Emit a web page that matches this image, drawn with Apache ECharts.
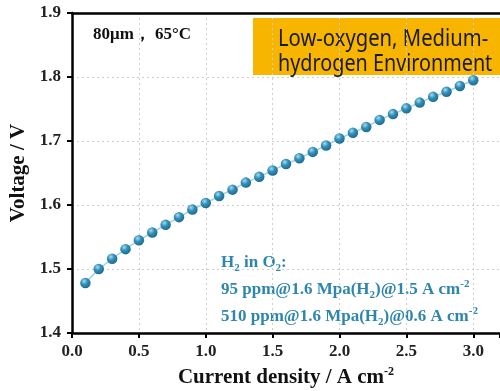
<!DOCTYPE html>
<html>
<head>
<meta charset="utf-8">
<script src="https://cdn.jsdelivr.net/npm/echarts@6/dist/echarts.min.js"></script>
<style>
  html, body { margin: 0; padding: 0; background: #fff; }
  #chart { width: 500px; height: 391px; }
</style>
</head>
<body>
<div id="chart"></div>
<script>
// Polarisation curve: current density (A cm^-2) vs cell voltage (V)
const currentDensity = [0.1, 0.2, 0.3, 0.4, 0.5, 0.6, 0.7, 0.8, 0.9, 1.0,
  1.1, 1.2, 1.3, 1.4, 1.5, 1.6, 1.7, 1.8, 1.9, 2.0,
  2.1, 2.2, 2.3, 2.4, 2.5, 2.6, 2.7, 2.8, 2.9, 3.0];
const voltage = [1.478, 1.500, 1.516, 1.531, 1.545, 1.557, 1.569, 1.581, 1.593, 1.603,
  1.614, 1.624, 1.635, 1.644, 1.654, 1.664, 1.673, 1.683, 1.693, 1.704,
  1.713, 1.722, 1.733, 1.742, 1.751, 1.760, 1.769, 1.777, 1.786, 1.795];
const xTicks = { min: 0, max: 3.2, interval: 0.5 };
const yTicks = { min: 1.4, max: 1.9, interval: 0.1 };

const points = currentDensity.map((c, i) => [c, voltage[i]]);

const serif = 'Liberation Serif, Times New Roman, serif';
const blue = '#2f86ad';

// rich-text styles for the annotation lines (subscripts / superscripts)
const annoRich = {
  t: { fontFamily: serif, fontWeight: 'bold', fontSize: 17, fill: blue, lineHeight: 22 },
  sub: { fontFamily: serif, fontWeight: 'bold', fontSize: 11, fill: blue, lineHeight: 11, verticalAlign: 'bottom' },
  sup: { fontFamily: serif, fontWeight: 'bold', fontSize: 11, fill: blue, lineHeight: 11, verticalAlign: 'top' }
};
const annoLines = [
  '{t|H}{sub|2}{t| in O}{sub|2}{t|:}',
  '{t|95 ppm@1.6 Mpa(H}{sub|2}{t|)@1.5 A cm}{sup|-2}',
  '{t|510 ppm@1.6 Mpa(H}{sub|2}{t|)@0.6 A cm}{sup|-2}'
];
const annoY = [263, 290, 317];

const chart = echarts.init(document.getElementById('chart'));
chart.setOption({
  animation: false,
  grid: { left: 72, right: 0, top: 13, bottom: 58, containLabel: false, outerBoundsMode: 'none' },
  xAxis: [{
    type: 'value',
    min: xTicks.min, max: xTicks.max, interval: xTicks.interval,
    name: '{n|Current density / A cm}{sup|-2}',
    nameLocation: 'middle',
    nameGap: 33,
    nameTextStyle: {
      rich: {
        n: { fontFamily: serif, fontWeight: 'bold', fontSize: 21, color: '#111', lineHeight: 24 },
        sup: { fontFamily: serif, fontWeight: 'bold', fontSize: 12, color: '#111', lineHeight: 12, verticalAlign: 'top' }
      }
    },
    axisLine: { show: true, onZero: false, lineStyle: { color: '#000', width: 2.5 } },
    axisTick: { show: true, inside: false, length: 5, lineStyle: { color: '#000', width: 2 } },
    axisLabel: {
      fontFamily: serif, fontWeight: 'bold', fontSize: 17, color: '#222', margin: 10,
      formatter: v => (v > 3.05 ? '' : v.toFixed(1))
    },
    splitLine: { show: true, lineStyle: { color: '#cfcfcf', type: [2, 3], width: 1 } }
  }, {
    type: 'value', position: 'top',
    min: xTicks.min, max: xTicks.max,
    axisLine: { show: true, lineStyle: { color: '#000', width: 2.5 } },
    axisTick: { show: false }, axisLabel: { show: false }, splitLine: { show: false }
  }],
  yAxis: {
    type: 'value',
    min: yTicks.min, max: yTicks.max, interval: yTicks.interval,
    name: 'Voltage / V',
    nameLocation: 'middle',
    nameGap: 40,
    nameTextStyle: { fontFamily: serif, fontWeight: 'bold', fontSize: 21, color: '#111' },
    axisLine: { show: true, lineStyle: { color: '#000', width: 2.5 } },
    axisTick: { show: true, inside: false, length: 5, lineStyle: { color: '#000', width: 2 } },
    axisLabel: {
      fontFamily: serif, fontWeight: 'bold', fontSize: 17, color: '#222', margin: 11,
      formatter: v => v.toFixed(1)
    },
    splitLine: { show: true, lineStyle: { color: '#cfcfcf', type: [2, 3], width: 1 } }
  },
  series: [{
    type: 'line',
    xAxisIndex: 0,
    data: points,
    symbol: 'circle',
    symbolSize: 10.5,
    lineStyle: { color: '#9fd0e6', width: 1.5 },
    itemStyle: {
      color: new echarts.graphic.RadialGradient(0.38, 0.32, 0.7, [
        { offset: 0, color: '#a9dcef' },
        { offset: 0.45, color: '#3290b8' },
        { offset: 1, color: '#1c6a8e' }
      ]),
      borderWidth: 0
    }
  }],
  graphic: [
    {
      type: 'text', x: 93, y: 35,
      style: { text: '80μm， 65°C', font: 'bold 17px ' + serif, fill: '#111', verticalAlign: 'middle' }
    },
    {
      type: 'rect', shape: { x: 253, y: 18, width: 247, height: 57 },
      style: { fill: '#f7b500' }
    },
    {
      type: 'text', x: 278, y: 39, scaleX: 0.88,
      style: { text: 'Low-oxygen, Medium-', font: '23px "Noto Sans", sans-serif', fill: '#1a1a1a', verticalAlign: 'middle' }
    },
    {
      type: 'text', x: 278, y: 64, scaleX: 0.86,
      style: { text: 'hydrogen Environment', font: '23px "Noto Sans", sans-serif', fill: '#1a1a1a', verticalAlign: 'middle' }
    }
  ].concat(annoLines.map((line, i) => ({
    type: 'text', x: 221, y: annoY[i],
    style: { text: line, rich: annoRich, verticalAlign: 'middle' }
  })))
});
</script>
</body>
</html>
